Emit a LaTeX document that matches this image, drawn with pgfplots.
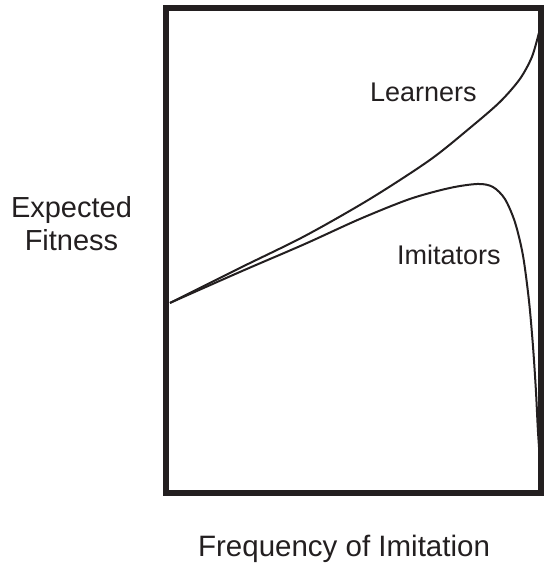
\documentclass[border=0pt]{standalone}
\usepackage{pgfplots}
\pgfplotsset{compat=1.18}
\usepackage{fontspec}
\setmainfont{Liberation Sans}
\definecolor{ink}{HTML}{231F20}
\begin{document}
\begin{tikzpicture}
\begin{axis}[
  scale only axis,
  width=375pt, height=486pt,
  xmin=166.5, xmax=541.5,
  ymin=7.5, ymax=493.5,
  y dir=reverse,
  ticks=none,
  clip=false,
  axis on top,
  axis line style={line width=6pt, ink},
]
\path (axis cs:0,0) rectangle (axis cs:547,563);
% Learners
\addplot[ink, line width=2pt, smooth] coordinates {
(170,303) (240,268) (305,236) (370,199) (430,160) (470,128)
(500,102) (520,79) (532,57) (539,33)
};
% Imitators
\addplot[ink, line width=2pt, smooth] coordinates {
(170,303) (240,272) (305,244) (360,219) (410,199) (450,188) (478,184)
(493,187) (505,199) (515,222) (523,255) (529,300) (533,345)
(536,390) (538,430) (540,460) (541.5,485)
};
\node[anchor=base west, font=\fontsize{27}{28}\selectfont, text=ink, inner sep=0pt] at (axis cs:370,102) {Learners};
\node[anchor=base west, font=\fontsize{27}{28}\selectfont, text=ink, inner sep=0pt] at (axis cs:397,265) {Imitators};
\node[anchor=base, font=\fontsize{29}{30}\selectfont, text=ink, inner sep=0pt] at (axis cs:71.5,218) {Expected};
\node[anchor=base, font=\fontsize{29}{30}\selectfont, text=ink, inner sep=0pt] at (axis cs:71.5,251) {Fitness};
\node[anchor=base west, font=\fontsize{29.5}{30}\selectfont, text=ink, inner sep=0pt] at (axis cs:198,557) {Frequency of Imitation};
\end{axis}
\end{tikzpicture}
\end{document}
